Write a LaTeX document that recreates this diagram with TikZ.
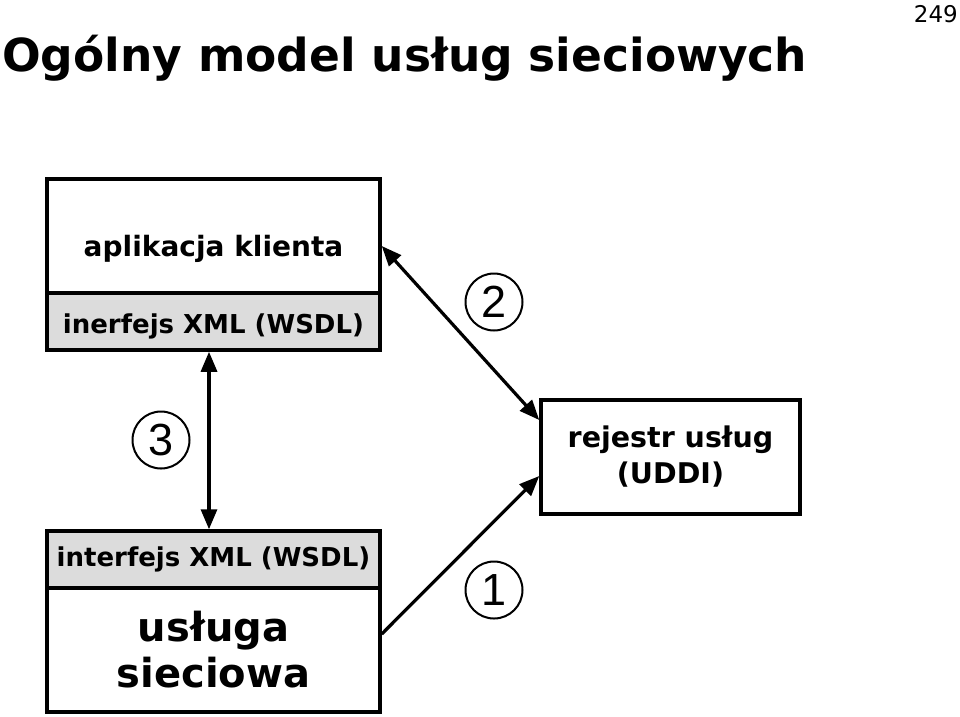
\documentclass[tikz,border=0pt]{standalone}
\usepackage{fontspec}
\setmainfont{DejaVu Sans}
\newfontfamily\numfont{Liberation Sans}
\usetikzlibrary{arrows.meta}
\definecolor{panelgray}{HTML}{DCDCDC}
\begin{document}
\begin{tikzpicture}[x=1pt,y=-1pt,
  box/.style={draw=black,line width=3.5pt,rectangle,inner sep=0pt,align=center,font=\bfseries\fontsize{26}{30}\selectfont},
  graybox/.style={box,fill=panelgray},
  txt/.style={inner sep=0pt,align=center,font=\bfseries\fontsize{26}{30}\selectfont},
  link/.style={line width=3.2pt,-{Triangle[length=20pt,width=16pt]}},
  blink/.style={line width=3.2pt,{Triangle[length=20pt,width=16pt]}-{Triangle[length=20pt,width=16pt]}},
  num/.style={draw=black,circle,line width=2pt,minimum size=57pt,inner sep=0pt,font=\numfont\fontsize{45}{45}\selectfont}]
\useasboundingbox (0,0) rectangle (960,716);
\node[anchor=base west,inner sep=0pt,font=\bfseries\fontsize{45.5}{50}\selectfont] (title) at (2,71) {Ogólny model usług sieciowych};
\node[anchor=base east,inner sep=0pt,font=\fontsize{23}{24}\selectfont] (page) at (958,22) {249};
% client
\node[box,minimum width=333pt,minimum height=114pt] (app) at (213.5,236) {};
\node[txt,anchor=base,font=\bfseries\fontsize{28}{32}\selectfont] (apptxt) at (213.5,256) {aplikacja klienta};
\node[graybox,minimum width=333pt,minimum height=57pt] (wsdl1) at (213.5,321.5) {};
\node[txt,anchor=base] (wsdl1txt) at (213.5,333) {inerfejs XML (WSDL)};
% service
\node[graybox,minimum width=333pt,minimum height=57pt] (wsdl2) at (213.5,559.5) {interfejs XML (WSDL)};
\node[box,minimum width=333pt,minimum height=124pt,font=\bfseries\fontsize{40}{46}\selectfont] (svc) at (213.5,650) {usługa\\sieciowa};
% registry
\node[box,minimum width=259pt,minimum height=114pt,font=\bfseries\fontsize{28.5}{36}\selectfont] (reg) at (670.5,457) {rejestr usług\\(UDDI)};
% arrows
\draw[blink] ([xshift=-4.5pt]wsdl1.south) -- ([xshift=-4.5pt]wsdl2.north);
\draw[blink] ([yshift=-10pt]app.east) -- ([yshift=37pt]reg.west);
\draw[link] ([yshift=16pt]svc.east) -- ([yshift=-19pt]reg.west);
% numbers
\node[num] (n2) at (494,302) {2};
\node[num] (n3) at (161,440) {3};
\node[num] (n1) at (494,590) {1};
\end{tikzpicture}
\end{document}
